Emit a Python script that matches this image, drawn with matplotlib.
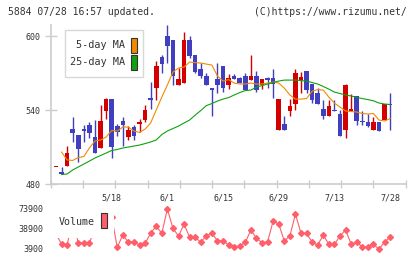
import numpy as np
import matplotlib
matplotlib.use("Agg")
import matplotlib.pyplot as plt
from matplotlib.patches import Rectangle

# ---- data (61 trading days, 2020) ----
opens = [494, 490, 495, 525, 520, 525, 528, 518, 509, 539, 549, 527, 531, 518, 526, 529,
         532, 550, 558, 583, 600, 597, 560, 562, 597, 585, 573, 568, 558, 565, 576, 560,
         568, 566, 568, 564, 568, 560, 566, 566, 524, 529, 539, 545, 564, 572, 561, 554,
         541, 535, 540, 537, 524, 539, 551, 531, 530, 524, 530, 532, 545]
highs = [494, 494, 511, 534, 520, 528, 530, 532, 544, 550, 549, 529, 534, 527, 528, 533,
         544, 563, 580, 585, 609, 597, 574, 603, 600, 585, 578, 570, 558, 578, 576, 569,
         569, 567, 570, 585, 572, 565, 567, 573, 549, 535, 549, 573, 571, 572, 561, 558,
         548, 548, 548, 540, 561, 553, 551, 539, 537, 534, 530, 545, 554]
lows = [494, 488, 495, 514, 498, 514, 517, 505, 509, 533, 501, 519, 511, 516, 516, 522,
        530, 541, 548, 570, 578, 560, 560, 562, 582, 570, 566, 560, 535, 554, 555, 557,
        565, 562, 556, 564, 555, 557, 558, 550, 524, 524, 535, 540, 554, 554, 546, 545,
        533, 535, 539, 519, 517, 539, 528, 528, 526, 524, 523, 532, 524]
closes = [494, 488, 505, 521, 508, 523, 521, 505, 531, 549, 510, 522, 528, 524, 519, 529,
          540, 548, 576, 577, 592, 568, 565, 597, 584, 571, 568, 560, 556, 560, 558, 566,
          565, 562, 556, 568, 556, 565, 564, 561, 549, 524, 543, 570, 567, 556, 548, 545,
          535, 543, 539, 519, 560, 541, 531, 530, 527, 530, 523, 545, 544]
ma5 = [np.nan, 505.9, 499.5, 499.1, 501.5, 502.3, 509.2, 514.9, 515.7, 518.1, 523.4,
       523.0, 526.2, 526.2, 523.0, 521.8, 524.6, 529.5, 540.0, 550.5, 560.3, 570.8, 574.1,
       574.9, 578.9, 578.5, 578.1, 577.3, 576.5, 567.6, 563.5, 564.7, 561.9, 561.1, 561.1,
       561.9, 561.1, 561.1, 561.9, 562.7, 561.9, 557.8, 552.2, 548.9, 548.9, 549.3, 555.4,
       556.6, 556.2, 550.5, 545.7, 542.4, 539.2, 538.8, 538.4, 537.2, 536.8, 537.2, 531.9,
       531.1, 533.1]
ma25 = [np.nan, 487.7, 488.1, 491.4, 493.8, 496.2, 498.6, 501.1, 503.1, 505.1, 507.2,
        508.0, 509.2, 510.0, 510.8, 511.6, 512.8, 514.1, 515.7, 520.1, 523.0, 525.0, 527.0,
        529.5, 531.9, 535.9, 539.6, 543.6, 545.3, 547.3, 548.9, 550.1, 552.2, 554.2, 555.8,
        556.2, 558.6, 559.9, 561.1, 562.3, 563.5, 564.3, 564.3, 564.3, 563.9, 563.5, 562.3,
        561.1, 559.1, 557.0, 554.6, 553.4, 552.2, 551.4, 550.3, 549.3, 548.5, 547.5, 545.7,
        544.9, 544.5]
volume = [30000, 12650, 10900, 55000, 14900, 14900, 14900, 39000, 35000, 45000, 60000,
          6900, 28400, 15600, 16700, 10900, 13800, 31300, 44100, 31300, 73900,
          40100, 26650, 47100, 24400, 24400, 15600, 27200, 31300, 18400, 18400,
          10900, 7900, 9150, 15600, 37150, 22600, 14900, 16700, 52900, 47650,
          17900, 26650, 65150, 31300, 31300, 15600, 10900, 28400, 12100, 12100,
          26650, 37150, 12650, 15600, 7900, 6900, 12100, 3900, 15600, 25400]
date_labels = ["5/18", "6/1", "6/15", "6/29", "7/13", "7/28"]
date_idx = [10, 20, 30, 40, 50, 60]
price_ticks = [480, 540, 600]
vol_ticks = [3900, 38900, 73900]

# ---- styling ----
W, H = 420, 259
MONO = "DejaVu Sans Mono"
TXT = "#333333"
GRID = "#cccccc"
UP, DOWN = "#d40000", "#3f3fbf"
ORANGE, GREEN, PINK = "#f28a00", "#10a010", "#ff5f6a"

fig = plt.figure(figsize=(W / 100, H / 100), dpi=100)
fig.patch.set_facecolor("white")

def fx(x): return x / W
def fy(y): return 1 - y / H

ax = fig.add_axes([fx(50.7), fy(184), (405.7 - 50.7) / W, (184 - 25) / H])
axv = fig.add_axes([fx(50.7), fy(255), (405.7 - 50.7) / W, 52 / H])

n = len(closes)
idx = np.arange(n)
xlim = (-0.95, 62.8)

# candles
for i in idx:
    o, h, l, c = opens[i], highs[i], lows[i], closes[i]
    col = UP if c >= o else DOWN
    if h > l:
        ax.vlines(i, l, h, color=col, lw=1.0, zorder=2)
    body = max(abs(c - o), 0.9)
    ax.bar(i, body, bottom=min(o, c), width=0.82, color=col, lw=0, zorder=3)

ax.plot(idx, ma5, color=ORANGE, lw=0.8, zorder=4)
ax.plot(idx, ma25, color=GREEN, lw=0.8, zorder=4)

ax.set_xlim(*xlim)
ax.set_ylim(480, 609)
for s in ["top", "right"]:
    ax.spines[s].set_visible(False)
for s in ["left", "bottom"]:
    ax.spines[s].set_color(GRID)
    ax.spines[s].set_linewidth(1.2)
ax.set_yticks(price_ticks)
ax.set_yticklabels([str(t) for t in price_ticks], fontsize=6, family=MONO, color=TXT)
ax.tick_params(axis="y", direction="inout", length=8, width=1, color=GRID, pad=3.5)
ax.set_xticks(date_idx)
ax.set_xticklabels(date_labels, fontsize=6, family=MONO, color=TXT)
ax.tick_params(axis="x", which="major", length=0, pad=7)
ax.set_xticks(np.linspace(xlim[0], xlim[1], 12), minor=True)
ax.tick_params(axis="x", which="minor", direction="inout", length=6, width=1, color=GRID)

# volume panel
axv.plot(idx, volume, color=PINK, lw=0.8, marker="D", ms=3.0, mec=PINK, mfc=PINK)
axv.set_xlim(*xlim)
axv.set_ylim(-6600, 84400)
for s in axv.spines.values():
    s.set_visible(False)
axv.set_xticks([])
axv.set_yticks(vol_ticks)
axv.set_yticklabels([str(t) for t in vol_ticks], fontsize=6, family=MONO, color=TXT)
axv.tick_params(axis="y", length=0, pad=5)

# price legend
fig.add_artist(Rectangle((fx(65), fy(77)), 78 / W, 47 / H, transform=fig.transFigure,
                         facecolor="white", edgecolor="#d8d8d8", lw=1.0, zorder=5))
for label, col, yc in [("5-day MA", ORANGE, 45), ("25-day MA", GREEN, 62)]:
    fig.text(fx(125), fy(yc), label, ha="right", va="center", fontsize=7.3,
             family=MONO, color=TXT, zorder=6)
    fig.add_artist(Rectangle((fx(131), fy(yc + 7.5)), 6 / W, 15 / H,
                             transform=fig.transFigure, facecolor=col,
                             edgecolor="#333333", lw=0.8, zorder=6))

# volume legend
fig.add_artist(Rectangle((fx(51), fy(238)), 63.5 / W, 33 / H, transform=fig.transFigure,
                         facecolor="white", edgecolor="none", zorder=5))
fig.text(fx(59), fy(222), "Volume", ha="left", va="center", fontsize=7.2,
         family=MONO, color=TXT, zorder=6)
fig.add_artist(Rectangle((fx(101), fy(228)), 6 / W, 15 / H, transform=fig.transFigure,
                         facecolor=PINK, edgecolor="#333333", lw=0.8, zorder=6))

# header
fig.text(fx(8), fy(12), "5884 07/28 16:57 updated.", ha="left", va="center",
         fontsize=7.0, family=MONO, color=TXT)
fig.text(fx(254), fy(12), "(C)https://www.rizumu.net/", ha="left", va="center",
         fontsize=7.0, family=MONO, color=TXT)

fig.savefig("out.png", dpi=100, facecolor="white")
